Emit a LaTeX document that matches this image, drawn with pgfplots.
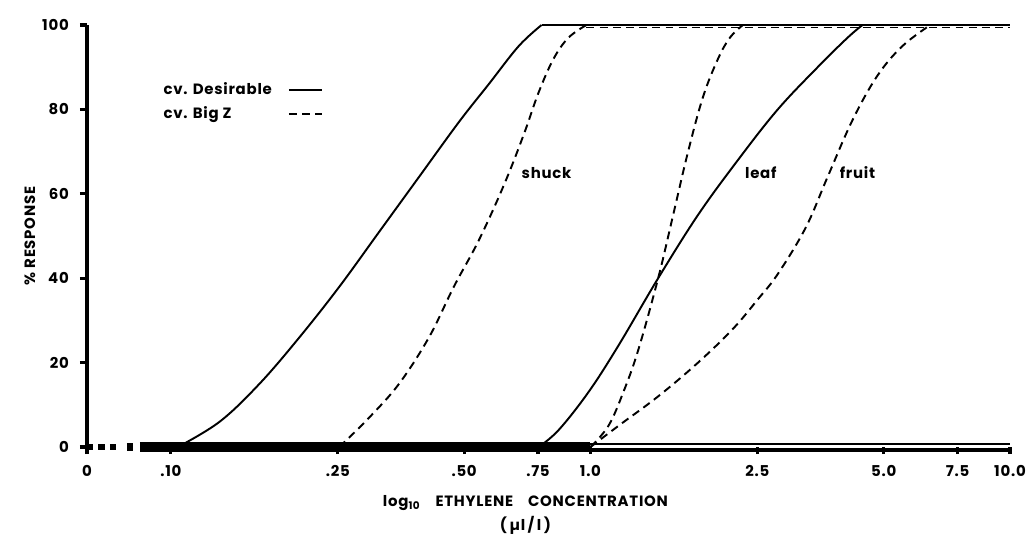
\documentclass[border=0pt]{standalone}
\usepackage{fontspec}
\setmainfont{Poppins}[LetterSpace=5]
\usepackage{pgfplots}
\pgfplotsset{compat=1.18}

% curve points: concentration (ul/l), % response
\pgfplotstableread{
x y
0.1039 0
0.1307 6
0.1627 15
0.2025 26
0.2521 38
0.3137 51
0.3904 64
0.4858 77
0.5725 86
0.6746 95
0.7649 100
}\shuckdes
\pgfplotstableread{
x y
0.2521 0
0.2971 7
0.3499 15
0.4123 26
0.4726 38
0.5420 49
0.6215 62
0.6933 74
0.7524 84
0.8168 92
0.8866 97
0.9784 100
}\shuckbig
\pgfplotstableread{
x y
0.7524 0
0.8395 4
0.9891 13
1.1655 24
1.4502 40
1.8051 55
2.2467 68
2.7962 80
3.4800 90
4.1015 97
4.4517 100
}\leafdes
\pgfplotstableread{
x y
1.0 0
1.1035 5
1.1978 13
1.3001 23
1.4502 40
1.5746 55
1.7090 70
1.8556 83
2.0142 92
2.1500 97
2.3089 100
}\leafbig
\pgfplotstableread{
x y
1.0 0
1.1655 5
1.4502 12
1.8051 20
2.1861 28
2.5064 35
2.7962 41
3.2595 52
3.6752 64
4.2151 77.5
4.8315 88
5.5397 95
6.4563 100
}\fruitbig

\newcommand{\lblfont}{\bfseries\fontsize{8.5}{10}\selectfont}

\begin{document}
\begin{tikzpicture}
\useasboundingbox (-1.74,-2.14) rectangle (18.84,8.94);
\begin{axis}[
    at={(0,0)}, anchor=south west,
    width=18.46cm, height=8.44cm, scale only axis,
    xmode=log,
    xmin=0.0631, xmax=10,
    ymin=0, ymax=100,
    clip=false,
    axis lines*=left,
    x axis line style={draw=none},
    y axis line style={line width=2.3pt},
    tick align=outside,
    major tick length=0.14cm,
    tick style={black, line width=1.8pt},
    xtick={0.0631,0.1,0.25,0.5,0.75,1,2.5,5,7.5,10},
    xticklabels={0,.10,.25,.50,.75,1.0,2.5,5.0,7.5,10.0},
    ytick={0,20,40,60,80,100},
    yticklabels={0,20,40,60,80,100},
    ticklabel style={font=\lblfont},
    xticklabel style={yshift=-0.1cm},
    yticklabel style={xshift=-0.1cm},
    xlabel={log\textsubscript{10}\quad ETHYLENE\quad CONCENTRATION\\[2pt](\,µl\,/\,l\,)},
    xlabel style={font=\lblfont, align=center, at={(rel axis cs:0.475,0)}, anchor=north, yshift=-0.85cm},
    ylabel={\%\ RESPONSE},
    ylabel style={font=\lblfont, at={(rel axis cs:0,0.5)}, anchor=center, yshift=1.14cm},
    legend plot pos=right,
    legend cell align=left,
    legend style={at={(rel axis cs:0.073,0.88)}, anchor=north west, draw=none, fill=none,
        font=\lblfont, row sep=1pt},
    legend image code/.code={\path (0cm,0cm); \draw[#1] (0.25cm,0cm) -- (0.91cm,0cm);},
    every axis plot/.append style={black, line width=1.1pt},
    dashstyle/.style={dash pattern=on 4.5pt off 3pt},
]
% bottom axis with break
\draw[line width=3pt, dash pattern=on 3.5pt off 3pt] (axis cs:0.0631,0) -- (axis cs:0.0757,0);
\draw[line width=5pt] (axis cs:0.0786,0) -- (axis cs:0.0813,0);
\draw[line width=5.5pt] (axis cs:0.0844,0) -- (axis cs:1.0,0);
\draw[line width=2.3pt] (axis cs:1.0,-0.8) -- (axis cs:10,-0.8);
\draw[line width=1.1pt] (axis cs:1.0,0.7) -- (axis cs:10,0.7);

\addplot[smooth, tension=0.6] table {\shuckdes};
\addlegendentry{cv. Desirable}
\addplot[dashstyle, smooth, tension=0.6] table {\shuckbig};
\addlegendentry{cv. Big Z}
\addplot[smooth, tension=0.6, forget plot] table {\leafdes};
\addplot[dashstyle, smooth, tension=0.6, forget plot] table {\leafbig};
\addplot[dashstyle, smooth, tension=0.6, forget plot] table {\fruitbig};

% plateaus at 100 %
\addplot[forget plot, line width=1.6pt] coordinates {(0.7649,100) (10,100)};
\addplot[forget plot, dashstyle] coordinates {(0.9784,99.4) (10,99.4)};

\node[font=\lblfont] at (axis cs:0.786,65) {shuck};
\node[font=\lblfont] at (axis cs:2.547,65) {leaf};
\node[font=\lblfont] at (axis cs:4.33,65) {fruit};
\end{axis}
\end{tikzpicture}
\end{document}
